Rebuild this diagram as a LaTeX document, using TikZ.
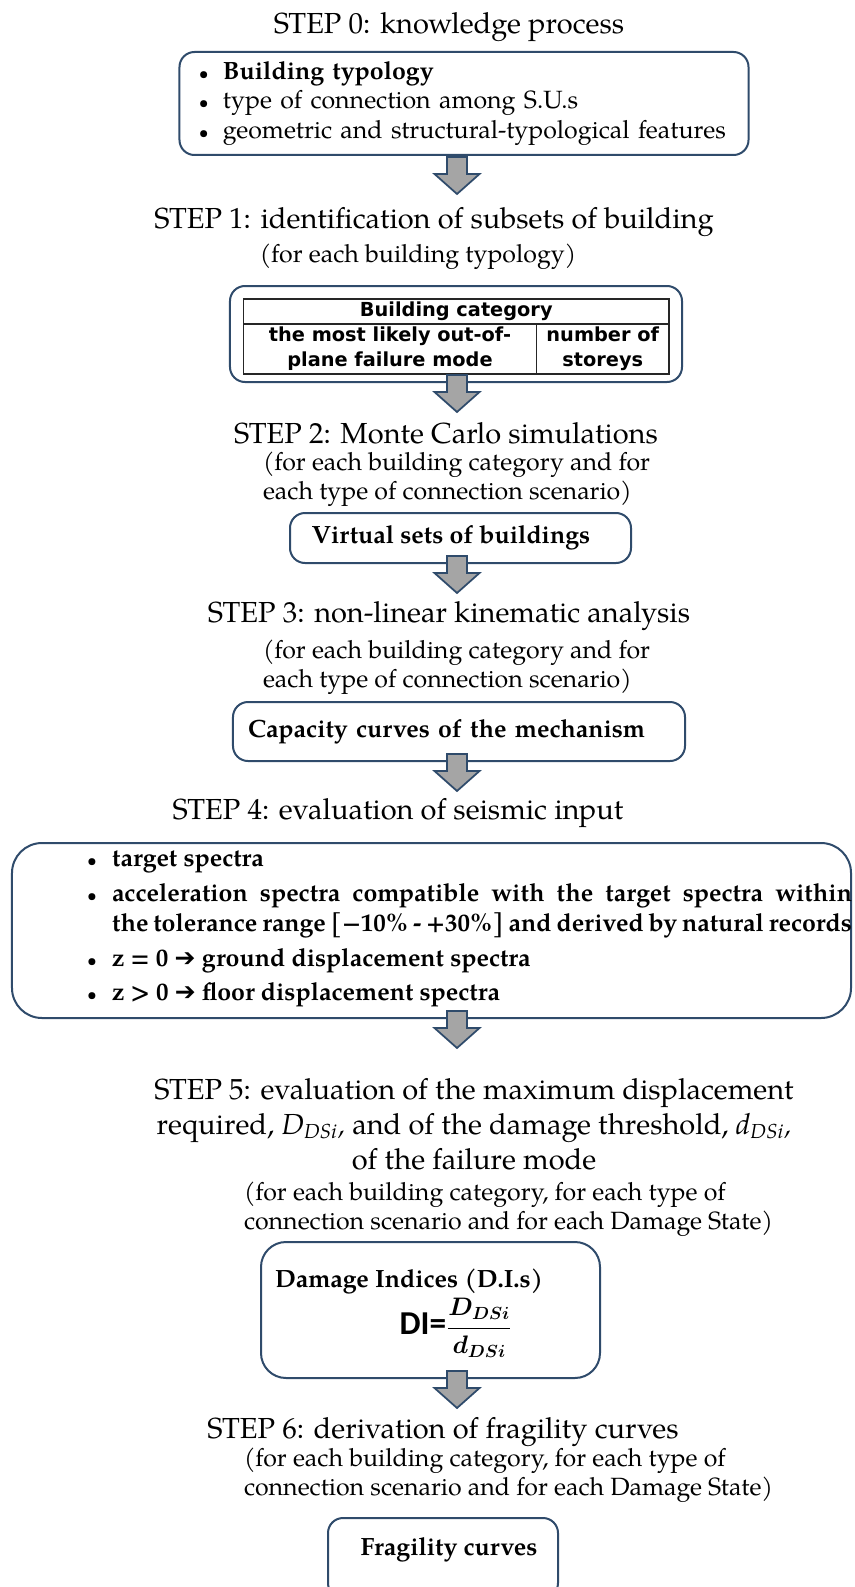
\documentclass[tikz,border=0pt]{standalone}
\usepackage{amsmath,amssymb}
\usepackage{fontspec}
\setmainfont{texgyrepagella}[Extension=.otf, UprightFont=*-regular, BoldFont=*-bold, ItalicFont=*-italic, BoldItalicFont=*-bolditalic]
\newfontfamily\cellfont{DejaVu Sans}
\newfontfamily\difont{Carlito}
\newfontfamily\arrfont{DejaVu Sans}
\usetikzlibrary{positioning,calc}

\definecolor{frameblue}{HTML}{2F4B6B}
\definecolor{shaftgray}{HTML}{A5A5A5}

\newcommand{\titlefs}{\fontsize{16.5}{19.9}\selectfont}
\newcommand{\subfs}{\fontsize{14.2}{16.5}\selectfont}
\newcommand{\boxfs}{\fontsize{14.2}{17}\selectfont}
\newcommand{\seisfs}{\fontsize{14.2}{17.3}\selectfont}
\newcommand{\cellfs}{\cellfont\bfseries\fontsize{11}{14.2}\selectfont}
\newcommand{\bul}[1][4.8mm]{\makebox[#1][l]{\mdseries\scalebox{0.7}{\textbullet}}}
\newcommand{\thenarrow}{{\arrfont\bfseries ➔}}

\begin{document}
\begin{tikzpicture}[
  x=0.2mm, y=-0.2mm,
  every node/.style={inner sep=0pt, outer sep=0pt},
  steptitle/.style={font=\titlefs, align=center},
  subnote/.style={font=\subfs, align=left, anchor=west},
  flowbox/.style={draw=frameblue, line width=0.4mm, rounded corners=3mm,
                  font=\boxfs\bfseries, align=center},
  cell/.style={draw=black!85, line width=0.3mm, font=\cellfs, align=center,
               anchor=north west},
  blockarr/.style={draw=frameblue, fill=shaftgray, line width=0.35mm, line join=miter},
  downarr/.pic={\draw[blockarr] (-10,-7) -- (10,-7) -- (10,10) -- (22.5,10)
                -- (0,30) -- (-22.5,10) -- (-10,10) -- cycle;}
]
  \useasboundingbox (0,0) rectangle (854,1587);
  \clip (0,0) rectangle (854,1587);
  \coordinate (col) at (457,0);

  \node[steptitle] (t0) at (449,27) {STEP 0: knowledge process};
  \node[flowbox, font=\boxfs, minimum width=113.8mm, minimum height=20.6mm,
        text width=106mm, align=left] (b0) at (464,103.5)
       {\bul\textbf{Building typology}\\
        \bul type of connection among S.U.s\\
        \bul geometric and structural-typological features};
  \pic at ($(col |- b0.south)+(0,9)$) {downarr};

  \node[steptitle] (t1) at (434,222) {STEP 1: identification of subsets of building};
  \node[font=\subfs] (s1) at (418,257) {(for each building typology)};
  \node[flowbox, minimum width=90.4mm, minimum height=19.2mm] (b1) at (456,334) {};
  \node[cell, minimum width=85.1mm, minimum height=5mm] (cathead) at (243.5,299)
       {Building category};
  \node[cell, minimum width=58.6mm, minimum height=10mm] (failmode) at (cathead.south west)
       {the most likely out-of-\\plane failure mode};
  \node[cell, minimum width=26.5mm, minimum height=10mm] (storeys) at (failmode.north east)
       {number of\\storeys};
  \pic at (col |- b1.south) {downarr};

  \node[steptitle] (t2) at (446,433) {STEP 2: Monte Carlo simulations};
  \node[subnote] (s2) at (263,479.5)
       {(for each building category and for\\each type of connection scenario)};
  \node[flowbox, minimum width=68.2mm, minimum height=10mm] (b2) at (460.5,538)
       {Virtual sets of buildings\rule{3.8mm}{0pt}};
  \pic at (col |- b2.south) {downarr};

  \node[steptitle] (t3) at (449,616) {STEP 3: non-linear kinematic analysis};
  \node[subnote] (s3) at (263,667.5)
       {(for each building category and for\\each type of connection scenario)};
  \node[flowbox, minimum width=90.4mm, minimum height=11.8mm, text width=84.4mm,
        align=left] (b3) at (459,731.5) {Capacity curves of the mechanism};
  \pic at (col |- b3.south) {downarr};

  \node[steptitle] (t4) at (398,813) {STEP 4: evaluation of seismic input};
  \node[flowbox, rounded corners=6mm, minimum width=167.8mm, minimum height=35mm] (b4)
       at (431.5,930.5) {};
  \node[font=\seisfs\bfseries, text width=153mm, align=justify, anchor=west] (seis)
       at (87,929)
       {\setlength{\parskip}{0.8mm}%
        \hangindent=5mm\hangafter=1\bul[5mm]target spectra\par
        \hangindent=5mm\hangafter=1\bul[5mm]acceleration spectra compatible with the
        target spectra within\linebreak the tolerance range [−10\% - +30\%] and derived
        by natural records\par
        \hangindent=5mm\hangafter=1\bul[5mm]z = 0 \thenarrow{} ground displacement spectra\par
        \hangindent=5mm\hangafter=1\bul[5mm]z > 0 \thenarrow{} floor displacement spectra\par};
  \pic at (col |- b4.south) {downarr};

  \node[steptitle] (t5) at (474,1124)
       {STEP 5: evaluation of the maximum displacement\\
        required, \textit{D}\textsubscript{\textit{DSi}}\textit{,} and of the damage
        threshold, \textit{d}\textsubscript{\textit{DSi}}\textit{,}\\
        of the failure mode};
  \node[subnote] (s5) at (244,1209.5)
       {(for each building category, for each type of\\connection scenario and for each Damage State)};
  \node[flowbox, rounded corners=5mm, minimum width=67.8mm, minimum height=27.2mm] (b5)
       at (430.5,1310) {};
  \node[font=\boxfs\bfseries, anchor=west] (dilabel) at (275,1281) {Damage Indices (D.I.s)};
  \node (diratio) at (456,1328)
       {{\difont\bfseries\fontsize{19}{22}\selectfont DI=}%
        {\fontsize{14}{16}\selectfont$\boldsymbol{\dfrac{D_{DSi}}{d_{DSi}}}$}};
  \pic at (col |- b5.south) {downarr};

  \node[steptitle] (t6) at (443,1432) {STEP 6: derivation of fragility curves};
  \node[subnote] (s6) at (244,1475)
       {(for each building category, for each type of\\connection scenario and for each Damage State)};
  \node[flowbox, minimum width=46mm, minimum height=16mm] (b6) at (443,1558) {};
  \node[font=\boxfs\bfseries] (fragtxt) at (449,1550) {Fragility curves};
\end{tikzpicture}
\end{document}
